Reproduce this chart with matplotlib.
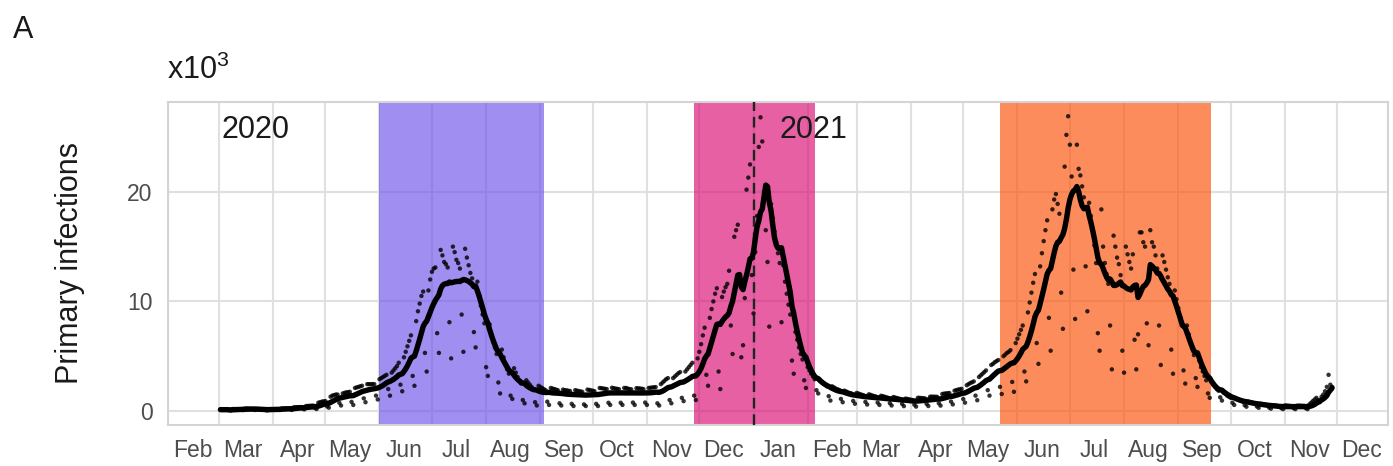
import numpy as np
import pandas as pd
import matplotlib
matplotlib.use("Agg")
import matplotlib.pyplot as plt
import matplotlib.dates as mdates

plt.rcParams['font.family'] = ['Liberation Sans', 'DejaVu Sans']
plt.rcParams['mathtext.fontset'] = 'custom'
plt.rcParams['mathtext.rm'] = 'Liberation Sans'

# Daily primary infections (thousands), one row per week Mon..Sun
start_part1 = "2020-03-02"
infections_part1 = [
    0.12, 0.12, 0.12, 0.11, 0.11, 0.07, 0.05,
    0.18, 0.18, 0.17, 0.17, 0.17, 0.10, 0.08,
    0.22, 0.22, 0.21, 0.20, 0.20, 0.12, 0.09,
    0.15, 0.14, 0.14, 0.14, 0.13, 0.08, 0.06,
    0.17, 0.17, 0.17, 0.17, 0.17, 0.11, 0.09,
    0.23, 0.23, 0.23, 0.23, 0.23, 0.15, 0.10,
    0.33, 0.34, 0.35, 0.35, 0.36, 0.22, 0.15,
    0.45, 0.46, 0.47, 0.48, 0.49, 0.27, 0.18,
    0.75, 0.80, 0.85, 0.88, 0.90, 0.42, 0.30,
    1.30, 1.40, 1.45, 1.50, 1.50, 0.75, 0.50,
    1.60, 1.65, 1.70, 1.72, 1.75, 0.83, 0.55,
    2.10, 2.15, 2.20, 2.25, 2.30, 1.15, 0.80,
    2.45, 2.45, 2.45, 2.45, 2.45, 1.40, 1.05,
    2.90, 3.00, 3.10, 3.20, 3.30, 2.00, 1.40,
    3.50, 3.70, 3.90, 4.10, 4.40, 2.40, 1.80,
    4.90, 5.40, 5.90, 6.40, 6.90, 3.20, 2.30,
    8.20, 9.10, 9.80, 10.5, 10.9, 5.30, 3.60,
    11.0, 12.0, 12.7, 13.0, 13.1, 7.10, 5.30,
    14.7, 14.2, 13.6, 13.4, 13.1, 8.10, 4.80,
    15.0, 14.5, 13.8, 13.5, 13.0, 8.80, 5.40,
    14.8, 14.0, 13.3, 12.6, 12.1, 7.20, 5.80,
    11.8, 10.6, 9.60, 8.80, 8.00, 4.00, 3.20,
    7.90, 7.00, 6.30, 5.80, 5.20, 2.60, 1.60,
    5.60, 4.90, 4.30, 3.80, 3.40, 1.40, 1.10,
    3.90, 3.50, 3.10, 2.80, 2.50, 1.00, 0.70,
    2.80, 2.60, 2.40, 2.20, 2.00, 0.80, 0.50,
    2.30, 2.20, 2.10, 2.00, 1.90, 0.85, 0.55,
    2.10, 2.05, 2.00, 1.95, 1.90, 0.70, 0.50,
    1.95, 1.90, 1.88, 1.85, 1.82, 0.65, 0.45,
    1.90, 1.85, 1.82, 1.78, 1.75, 0.60, 0.45,
    1.95, 1.92, 1.88, 1.85, 1.80, 0.65, 0.45,
    2.10, 2.08, 2.05, 2.02, 2.00, 0.75, 0.55,
    2.12, 2.08, 2.04, 2.02, 1.99, 0.75, 0.55,
    2.10, 2.10, 2.05, 2.00, 1.98, 0.77, 0.55,
    2.08, 2.07, 2.05, 2.03, 2.00, 0.77, 0.55,
    2.10, 2.12, 2.14, 2.16, 2.18, 0.70, 0.50,
    2.45, 2.60, 2.75, 2.90, 3.00, 1.00, 0.70,
    3.00, 3.15, 3.30, 3.45, 3.55, 1.20, 0.90,
    3.60, 3.80, 4.00, 4.20, 4.40, 1.40, 1.00,
    4.80, 5.40, 6.10, 6.90, 7.60, 3.30, 2.30,
    8.50, 9.30, 10.0, 10.7, 11.2, 3.60, 2.00,
    10.4, 10.9, 11.3, 11.6, 12.8, 7.80, 5.20,
    15.9, 16.5, 17.0, 12.0, 4.90, 6.00, 10.3,
]

start_part2 = "2020-12-28"
infections_part2 = [
    20.2, 21.3, 22.5, 12.4, 8.90, 14.5, 17.8,
    24.1, 26.8, 24.6, 20.0, 16.5, 13.6, 7.70,
    18.9, 17.6, 16.4, 15.4, 14.4, 13.5, 8.10,
    13.3, 11.8, 10.7, 9.70, 8.80, 4.60, 3.40,
    7.20, 6.50, 5.80, 5.20, 4.70, 2.80, 2.10,
    4.00, 3.70, 3.40, 3.15, 2.90, 1.90, 1.60,
    2.85, 2.70, 2.55, 2.40, 2.25, 1.35, 0.95,
    2.25, 2.15, 2.05, 1.98, 1.92, 1.10, 0.80,
    1.85, 1.78, 1.70, 1.64, 1.60, 0.92, 0.66,
    1.65, 1.60, 1.53, 1.48, 1.42, 0.83, 0.59,
    1.52, 1.47, 1.41, 1.36, 1.32, 0.77, 0.55,
    1.39, 1.35, 1.30, 1.25, 1.20, 0.71, 0.50,
    1.27, 1.23, 1.18, 1.14, 1.09, 0.65, 0.44,
    1.13, 1.10, 1.06, 1.03, 1.00, 0.58, 0.40,
    1.20, 1.20, 1.18, 1.17, 1.15, 0.65, 0.45,
    1.30, 1.31, 1.30, 1.30, 1.29, 0.71, 0.49,
    1.55, 1.58, 1.60, 1.62, 1.64, 0.86, 0.60,
    1.85, 1.90, 1.95, 1.98, 2.02, 1.09, 0.76,
    2.35, 2.45, 2.55, 2.62, 2.70, 1.40, 0.98,
    3.10, 3.25, 3.40, 3.55, 3.70, 1.90, 1.40,
    4.20, 4.30, 4.45, 4.55, 4.65, 2.20, 1.55,
    5.00, 5.15, 5.30, 5.40, 5.55, 2.65, 1.75,
    6.20, 6.60, 7.00, 7.40, 7.80, 3.60, 2.70,
    9.00, 9.90, 10.8, 11.7, 12.5, 6.20, 4.30,
    13.2, 14.4, 15.5, 16.5, 17.4, 8.50, 5.50,
    18.4, 19.3, 19.8, 18.9, 18.0, 10.8, 7.50,
    22.3, 25.2, 26.9, 24.3, 21.4, 12.9, 8.40,
    24.3, 22.1, 21.5, 20.5, 19.5, 13.2, 9.10,
    19.0, 17.8, 16.5, 15.1, 13.5, 7.10, 5.50,
    18.4, 15.0, 13.5, 12.5, 11.6, 7.80, 3.80,
    16.0, 15.0, 14.0, 13.4, 12.4, 5.50, 3.50,
    15.0, 14.3, 13.6, 13.0, 14.3, 6.50, 3.80,
    7.00, 16.3, 16.3, 15.4, 15.0, 8.00, 6.00,
    16.5, 15.4, 15.0, 14.2, 13.0, 7.80, 4.20,
    14.2, 13.6, 12.9, 12.2, 11.6, 5.60, 3.40,
    11.0, 10.2, 9.40, 8.60, 7.80, 3.70, 2.50,
    7.80, 7.00, 6.30, 5.70, 5.10, 3.00, 2.20,
    4.60, 4.00, 3.60, 3.20, 2.80, 1.60, 1.20,
    2.65, 2.40, 2.20, 2.00, 1.85, 1.25, 0.95,
    1.65, 1.55, 1.40, 1.30, 1.20, 0.75, 0.55,
    1.15, 1.08, 1.00, 0.93, 0.87, 0.53, 0.39,
    0.86, 0.82, 0.77, 0.72, 0.68, 0.41, 0.29,
    0.65, 0.63, 0.60, 0.57, 0.53, 0.31, 0.21,
    0.51, 0.50, 0.48, 0.46, 0.43, 0.25, 0.17,
    0.50, 0.50, 0.48, 0.46, 0.44, 0.25, 0.17,
    0.48, 0.49, 0.48, 0.47, 0.46, 0.25, 0.17,
    0.60, 0.75, 0.90, 1.05, 1.20, 1.00, 0.80,
    1.30, 1.50, 1.80, 2.20, 3.30, 2.40, 2.20,
]

# Epidemic waves (shaded periods)
wave_starts = ["2020-06-01", "2020-11-28", "2021-05-22"]
wave_ends = ["2020-09-03", "2021-02-05", "2021-09-20"]
wave_colors = ["#7157e9", "#da1276", "#fd540c"]

year_labels = ["2020", "2021"]
year_label_dates = ["2020-03-22", "2021-02-04"]
year_label_level = 25.6
year_start_line = "2021-01-01"

x_range = ("2020-02-01", "2021-12-30")
y_range = (-1.28, 28.2)
y_ticks = [0, 10, 20]

# Build daily series and 7-day trailing mean
s1 = pd.Series(infections_part1,
               index=pd.date_range(start_part1, periods=len(infections_part1), freq="D"))
s2 = pd.Series(infections_part2,
               index=pd.date_range(start_part2, periods=len(infections_part2), freq="D"))
daily = pd.concat([s1, s2])
rolling = daily.rolling(7, min_periods=1).mean()

W, H = 1393, 466
fig = plt.figure(figsize=(W / 100, H / 100), dpi=100)
ax = fig.add_axes([168 / W, 1 - 425 / H, 1220 / W, 323 / H])

for a, b, c in zip(wave_starts, wave_ends, wave_colors):
    ax.axvspan(pd.Timestamp(a), pd.Timestamp(b), color=c, alpha=0.67, lw=0, zorder=1.5)

ax.axvline(pd.Timestamp(year_start_line), color="#222222", lw=1.7,
           ls=(0, (4.5, 2.5)), zorder=3)

ax.scatter(daily.index, daily.values, s=10, color="black", alpha=0.8,
           edgecolors="none", zorder=4)
ax.plot(rolling.index, rolling.values, color="black", lw=3.9, zorder=5,
        solid_joinstyle="round", solid_capstyle="round")

for txt, d in zip(year_labels, year_label_dates):
    ax.text(pd.Timestamp(d), year_label_level, txt, fontsize=22,
            ha="center", va="center", color="#1a1a1a", zorder=6)

ax.set_xlim(pd.Timestamp(x_range[0]), pd.Timestamp(x_range[1]))
ax.set_ylim(*y_range)
ax.set_yticks(y_ticks)
ax.set_yticklabels([str(v) for v in y_ticks])

ax.xaxis.set_major_locator(mdates.MonthLocator(bymonthday=15))
ax.xaxis.set_major_formatter(mdates.DateFormatter("%b"))
ax.xaxis.set_minor_locator(mdates.MonthLocator(bymonthday=1))

ax.set_axisbelow(True)
ax.grid(False)
ax.grid(True, which="minor", axis="x", color="#e0e0e0", lw=1.5)
ax.grid(True, which="major", axis="y", color="#e0e0e0", lw=1.5)

ax.tick_params(axis="x", which="both", length=0, pad=10, labelsize=16.5,
               labelcolor="#4d4d4d")
ax.tick_params(axis="y", which="both", length=0, pad=11, labelsize=16.5,
               labelcolor="#4d4d4d")
for sp in ax.spines.values():
    sp.set_color("#d4d4d4")
    sp.set_linewidth(1.5)

fig.text(70 / W, 1 - 263 / H, "Primary infections", rotation=90,
         fontsize=22, ha="center", va="center", color="#1a1a1a")
fig.text(167 / W, 1 - 79 / H, r"x10$^{\mathregular{3}}$", fontsize=22,
         ha="left", va="baseline", color="#1a1a1a")
fig.text(13 / W, 1 - 38 / H, "A", fontsize=22, ha="left", va="baseline",
         color="#1a1a1a")

fig.savefig("out.png", dpi=100)
